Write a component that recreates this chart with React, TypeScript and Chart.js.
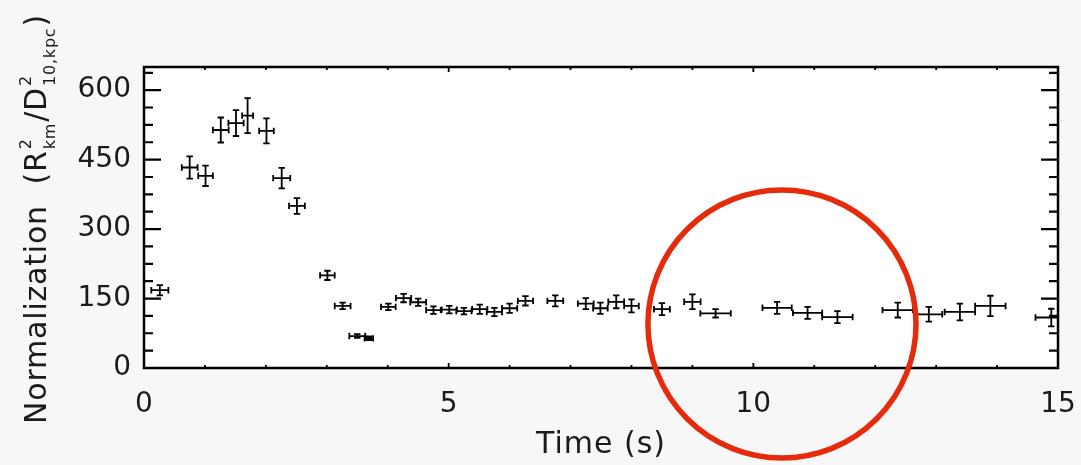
import React, { useEffect, useRef } from "react";
import { Chart, registerables } from "chart.js";

Chart.register(...registerables);

// ---- data ----
const timeS = [0.26, 0.75, 1.01, 1.26, 1.51, 1.70, 2.01, 2.26, 2.51, 3.01, 3.26, 3.50, 3.69, 4.01, 4.26, 4.50, 4.75, 5.01, 5.25, 5.51, 5.75, 6.00, 6.26, 6.75, 7.25, 7.49, 7.75, 8.00, 8.50, 9.00, 9.38, 10.39, 10.89, 11.38, 12.37, 12.88, 13.39, 13.89, 14.89];
const timeErr = [0.14, 0.13, 0.12, 0.13, 0.125, 0.09, 0.12, 0.14, 0.13, 0.12, 0.13, 0.13, 0.07, 0.12, 0.125, 0.13, 0.12, 0.125, 0.125, 0.125, 0.125, 0.125, 0.125, 0.13, 0.13, 0.12, 0.13, 0.12, 0.13, 0.135, 0.25, 0.24, 0.24, 0.25, 0.25, 0.22, 0.25, 0.25, 0.26];
const norm = [168, 433, 415, 514, 529, 545, 512, 410, 350, 200, 134, 69, 64, 132, 151, 142, 125, 126, 123, 127, 121, 129, 145, 145, 139, 129, 143, 134, 127, 143, 118, 130, 119, 110, 125, 116, 121, 134, 109];
const normErr = [11, 24, 22, 27, 28, 38, 27, 22, 17, 10, 7, 4, 4, 7, 9, 8, 8, 8, 7, 10, 9, 10, 10, 12, 12, 12, 14, 14, 13, 16, 9, 13, 13, 13, 16, 16, 18, 22, 19];

const xTickValues = [0, 5, 10, 15];
const yTickValues = [0, 150, 300, 450, 600];
const xMinorStep = 1;
const yMinorStep = 37.5;
const xRange = [0, 15];
const yRange = [0, 650];

// highlight circle (data units)
const circleCenter = { x: 10.47, y: 95 };
const circleRadiusX = 2.2;

const xTitle = "Time (s)";

export default function App() {
  const ref = useRef<HTMLCanvasElement>(null);

  useEffect(() => {
    document.body.style.margin = "0";
    document.body.style.background = "#f7f7f7";
    const FONT = "'DejaVu Sans', sans-serif";
    const TEXT = "#1a1a1a";

    const bg = {
      id: "bg",
      beforeDraw(chart: any) {
        const { ctx, chartArea: a } = chart;
        ctx.save();
        ctx.fillStyle = "#ffffff";
        ctx.fillRect(a.left, a.top, a.right - a.left, a.bottom - a.top);
        ctx.restore();
      },
    };

    const errorBars = {
      id: "errorBars",
      afterDatasetsDraw(chart: any) {
        const { ctx } = chart;
        const xs = chart.scales.x;
        const ys = chart.scales.y;
        ctx.save();
        ctx.strokeStyle = "#000";
        ctx.lineWidth = 1.8;
        const cap = 3.2;
        for (let i = 0; i < timeS.length; i++) {
          const x0 = xs.getPixelForValue(timeS[i] - timeErr[i]);
          const x1 = xs.getPixelForValue(Math.min(timeS[i] + timeErr[i], xRange[1]));
          const xc = xs.getPixelForValue(timeS[i]);
          const yc = ys.getPixelForValue(norm[i]);
          const y0 = ys.getPixelForValue(norm[i] - normErr[i]);
          const y1 = ys.getPixelForValue(norm[i] + normErr[i]);
          ctx.beginPath();
          ctx.moveTo(x0, yc);
          ctx.lineTo(x1, yc);
          ctx.moveTo(x0, yc - cap);
          ctx.lineTo(x0, yc + cap);
          ctx.moveTo(x1, yc - cap);
          ctx.lineTo(x1, yc + cap);
          ctx.moveTo(xc, y0);
          ctx.lineTo(xc, y1);
          ctx.moveTo(xc - cap, y0);
          ctx.lineTo(xc + cap, y0);
          ctx.moveTo(xc - cap, y1);
          ctx.lineTo(xc + cap, y1);
          ctx.stroke();
        }
        ctx.restore();
      },
    };

    const frame = {
      id: "frame",
      afterDraw(chart: any) {
        const { ctx, chartArea: a } = chart;
        const xs = chart.scales.x;
        const ys = chart.scales.y;
        ctx.save();
        ctx.strokeStyle = "#000";
        ctx.lineWidth = 2.5;
        ctx.strokeRect(a.left, a.top, a.right - a.left, a.bottom - a.top);
        ctx.lineWidth = 2.2;
        ctx.beginPath();
        for (let v = yRange[0]; v <= yRange[1] + 1e-6; v += yMinorStep) {
          const major = yTickValues.some((t) => Math.abs(t - v) < 1e-6);
          const len = major ? 17 : 9;
          const py = ys.getPixelForValue(v);
          ctx.moveTo(a.left, py);
          ctx.lineTo(a.left + len, py);
          ctx.moveTo(a.right, py);
          ctx.lineTo(a.right - len, py);
        }
        ctx.stroke();
        ctx.lineWidth = 1.8;
        ctx.beginPath();
        for (let v = xRange[0]; v <= xRange[1] + 1e-6; v += xMinorStep) {
          const major = xTickValues.some((t) => Math.abs(t - v) < 1e-6);
          const len = major ? 5 : 3;
          const px = xs.getPixelForValue(v);
          ctx.moveTo(px, a.bottom);
          ctx.lineTo(px, a.bottom - len);
          ctx.moveTo(px, a.top);
          ctx.lineTo(px, a.top + len);
        }
        ctx.stroke();
        ctx.restore();
      },
    };

    const titles = {
      id: "titles",
      afterDraw(chart: any) {
        const { ctx, chartArea: a } = chart;
        ctx.save();
        ctx.fillStyle = TEXT;
        // x title
        ctx.font = `30px ${FONT}`;
        (ctx as any).letterSpacing = "1px";
        ctx.textAlign = "center";
        ctx.textBaseline = "alphabetic";
        ctx.fillText(xTitle, (a.left + a.right) / 2, 453);

        // y title with super/subscripts
        (ctx as any).letterSpacing = "0.8px";
        const main = `30px ${FONT}`;
        const small = `16px ${FONT}`;
        type Seg = { text: string; kind: "main" | "pair"; sup?: string; sub?: string };
        const segs: Seg[] = [
          { text: "Normalization  (R", kind: "main" },
          { text: "", kind: "pair", sup: "2", sub: "km" },
          { text: "/D", kind: "main" },
          { text: "", kind: "pair", sup: "2", sub: "10,kpc" },
          { text: ")", kind: "main" },
        ];
        ctx.textAlign = "left";
        const widths = segs.map((s) => {
          if (s.kind === "main") {
            ctx.font = main;
            return ctx.measureText(s.text).width;
          }
          ctx.font = small;
          return Math.max(ctx.measureText(s.sup!).width, ctx.measureText(s.sub!).width) + 2;
        });
        const total = widths.reduce((p, c) => p + c, 0);
        ctx.translate(46, 219);
        ctx.rotate(-Math.PI / 2);
        let cx = -total / 2;
        segs.forEach((s, i) => {
          if (s.kind === "main") {
            ctx.font = main;
            ctx.fillText(s.text, cx, 0);
          } else {
            ctx.font = small;
            ctx.fillText(s.sup!, cx + 1, -15);
            ctx.fillText(s.sub!, cx + 1, 9);
          }
          cx += widths[i];
        });
        ctx.restore();
      },
    };

    const circle = {
      id: "circle",
      afterDraw(chart: any) {
        const { ctx } = chart;
        const xs = chart.scales.x;
        const ys = chart.scales.y;
        const cx = xs.getPixelForValue(circleCenter.x);
        const cy = ys.getPixelForValue(circleCenter.y);
        const r = xs.getPixelForValue(circleCenter.x + circleRadiusX) - cx;
        ctx.save();
        ctx.strokeStyle = "rgb(230,42,12)";
        ctx.lineWidth = 5.5;
        ctx.beginPath();
        ctx.arc(cx, cy, r, 0, Math.PI * 2);
        ctx.stroke();
        ctx.restore();
      },
    };

    const chart = new Chart(ref.current!, {
      type: "scatter",
      data: {
        datasets: [
          {
            data: timeS.map((t, i) => ({ x: t, y: norm[i] })),
            pointRadius: 0,
            showLine: false,
          },
        ],
      },
      options: {
        responsive: false,
        animation: false,
        devicePixelRatio: 1,
        layout: { padding: { top: 67, right: 23, left: 0, bottom: 0 } },
        plugins: { legend: { display: false }, tooltip: { enabled: false } },
        scales: {
          x: {
            type: "linear",
            min: xRange[0],
            max: xRange[1],
            afterBuildTicks: (s: any) => {
              s.ticks = xTickValues.map((v) => ({ value: v }));
            },
            afterFit: (s: any) => {
              s.height = 97;
              s.paddingLeft = 0;
              s.paddingRight = 0;
            },
            grid: { display: false, drawTicks: false },
            border: { display: false },
            ticks: {
              font: { family: FONT, size: 28 },
              color: TEXT,
              padding: 20,
              maxRotation: 0,
              autoSkip: false,
              callback: (v: any) => String(v),
            },
          },
          y: {
            type: "linear",
            min: yRange[0],
            max: yRange[1],
            afterBuildTicks: (s: any) => {
              s.ticks = yTickValues.map((v) => ({ value: v }));
            },
            afterFit: (s: any) => {
              s.width = 144;
              s.paddingTop = 0;
              s.paddingBottom = 0;
            },
            grid: { display: false, drawTicks: false },
            border: { display: false },
            ticks: {
              font: { family: FONT, size: 28 },
              color: TEXT,
              padding: 13,
              autoSkip: false,
              callback: (v: any) => String(v),
            },
          },
        },
      },
      plugins: [bg, errorBars, frame, titles, circle],
    });
    return () => chart.destroy();
  }, []);

  return (
    <div style={{ width: 1081, height: 465, background: "#f7f7f7" }}>
      <canvas ref={ref} width={1081} height={465} style={{ display: "block" }} />
    </div>
  );
}
